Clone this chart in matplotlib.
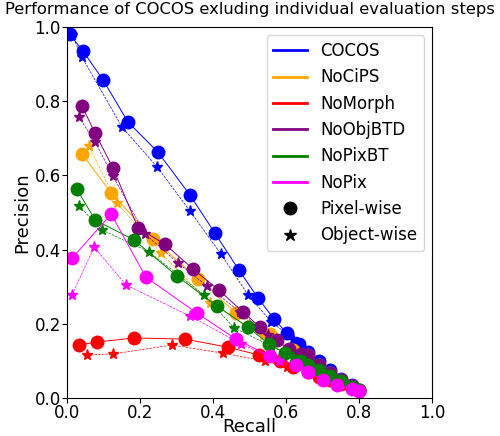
import matplotlib
matplotlib.use('Agg')
from matplotlib import pyplot as plt
from matplotlib.lines import Line2D

tail_r = [0.66, 0.69, 0.72, 0.75, 0.78, 0.80]
tail_p = [0.115, 0.09, 0.068, 0.048, 0.032, 0.022]

# pixel-wise (recall, precision)
cocos_px_r = [0.008, 0.044, 0.099, 0.167, 0.249, 0.337, 0.405, 0.471, 0.523, 0.567, 0.603, 0.636, 0.66, 0.69, 0.72, 0.75, 0.78, 0.80]
cocos_px_p = [0.98, 0.935, 0.857, 0.744, 0.663, 0.547, 0.445, 0.345, 0.270, 0.213, 0.175, 0.146, 0.125, 0.10, 0.075, 0.052, 0.035, 0.022]
cocos_ob_r = [0.014, 0.041, 0.151, 0.247, 0.337, 0.422, 0.496, 0.56, 0.62, 0.66, 0.69, 0.72, 0.75, 0.78, 0.80]
cocos_ob_p = [0.978, 0.919, 0.730, 0.623, 0.504, 0.388, 0.278, 0.205, 0.16, 0.125, 0.10, 0.075, 0.052, 0.035, 0.022]

cips_px_r = [0.041, 0.121, 0.236, 0.359, 0.463, 0.556, 0.62] + tail_r
cips_px_p = [0.658, 0.553, 0.429, 0.321, 0.229, 0.173, 0.13] + tail_p
cips_ob_r = [0.060, 0.137, 0.258, 0.392, 0.537, 0.61] + tail_r
cips_ob_p = [0.679, 0.526, 0.39, 0.256, 0.17, 0.13] + tail_p

morph_px_r = [0.033, 0.082, 0.184, 0.323, 0.441, 0.526, 0.584, 0.62] + tail_r
morph_px_p = [0.143, 0.151, 0.162, 0.159, 0.137, 0.116, 0.100, 0.085] + [0.07, 0.058, 0.048, 0.038, 0.028, 0.02]
morph_ob_r = [0.055, 0.126, 0.288, 0.427, 0.542, 0.603] + tail_r
morph_ob_p = [0.116, 0.119, 0.143, 0.121, 0.100, 0.084] + [0.068, 0.056, 0.046, 0.036, 0.027, 0.02]

objbtd_px_r = [0.041, 0.077, 0.126, 0.195, 0.268, 0.345, 0.416, 0.482, 0.529, 0.575, 0.608, 0.64] + tail_r
objbtd_px_p = [0.787, 0.714, 0.620, 0.458, 0.415, 0.348, 0.291, 0.232, 0.191, 0.156, 0.132, 0.12] + tail_p
objbtd_ob_r = [0.033, 0.077, 0.126, 0.214, 0.304, 0.384, 0.474, 0.55, 0.61] + tail_r
objbtd_ob_p = [0.757, 0.690, 0.598, 0.442, 0.364, 0.302, 0.232, 0.17, 0.13] + tail_p

pixbt_px_r = [0.027, 0.077, 0.184, 0.301, 0.411, 0.496, 0.553, 0.597, 0.64] + tail_r
pixbt_px_p = [0.563, 0.480, 0.426, 0.329, 0.248, 0.191, 0.146, 0.121, 0.10] + [0.09, 0.075, 0.06, 0.045, 0.03, 0.022]
pixbt_ob_r = [0.033, 0.096, 0.225, 0.375, 0.458, 0.56, 0.62] + tail_r
pixbt_ob_p = [0.518, 0.453, 0.394, 0.278, 0.189, 0.14, 0.11] + [0.09, 0.075, 0.06, 0.045, 0.03, 0.022]

nopix_px_r = [0.014, 0.121, 0.216, 0.356, 0.463, 0.556, 0.627, 0.66, 0.70, 0.74, 0.78, 0.80]
nopix_px_p = [0.377, 0.496, 0.326, 0.229, 0.159, 0.113, 0.089, 0.07, 0.05, 0.035, 0.025, 0.02]
nopix_ob_r = [0.014, 0.074, 0.162, 0.337, 0.477, 0.58, 0.66, 0.70, 0.74, 0.78, 0.80]
nopix_ob_p = [0.278, 0.407, 0.305, 0.221, 0.146, 0.10, 0.07, 0.05, 0.035, 0.025, 0.02]

methods = ['COCOS', 'NoCiPS', 'NoMorph', 'NoObjBTD', 'NoPixBT', 'NoPix']
colors = ['blue', 'orange', 'red', 'purple', 'green', 'magenta']
pixel = [(cocos_px_r, cocos_px_p), (cips_px_r, cips_px_p), (morph_px_r, morph_px_p),
         (objbtd_px_r, objbtd_px_p), (pixbt_px_r, pixbt_px_p), (nopix_px_r, nopix_px_p)]
objw = [(cocos_ob_r, cocos_ob_p), (cips_ob_r, cips_ob_p), (morph_ob_r, morph_ob_p),
        (objbtd_ob_r, objbtd_ob_p), (pixbt_ob_r, pixbt_ob_p), (nopix_ob_r, nopix_ob_p)]

fig = plt.figure(figsize=(5, 4.36), dpi=100)
ax = fig.add_axes([0.134, 0.087, 0.73, 0.851])
for c, (pr, pp), (orr, op) in zip(colors, pixel, objw):
    ax.plot(pr, pp, 'o-', color=c, lw=0.7, ms=9)
    ax.plot(orr, op, '*--', color=c, lw=0.5, ms=8)

handles = [Line2D([], [], color=c, lw=2) for c in colors]
handles += [Line2D([], [], color='k', marker='o', ls='', ms=9),
            Line2D([], [], color='k', marker='*', ls='', ms=9)]
ax.legend(handles, methods + ['Pixel-wise', 'Object-wise'], loc='upper right', fontsize=12)
ax.set_xlim(0, 1)
ax.set_ylim(0, 1)
ax.tick_params(labelsize=12, pad=1)
ax.set_xlabel('Recall', fontsize=13, labelpad=-3)
ax.set_ylabel('Precision', fontsize=13, labelpad=2)
fig.suptitle('Performance of COCOS exluding individual evaluation steps', fontsize=11.8, x=0.5, y=0.995)
fig.savefig('out.png')
